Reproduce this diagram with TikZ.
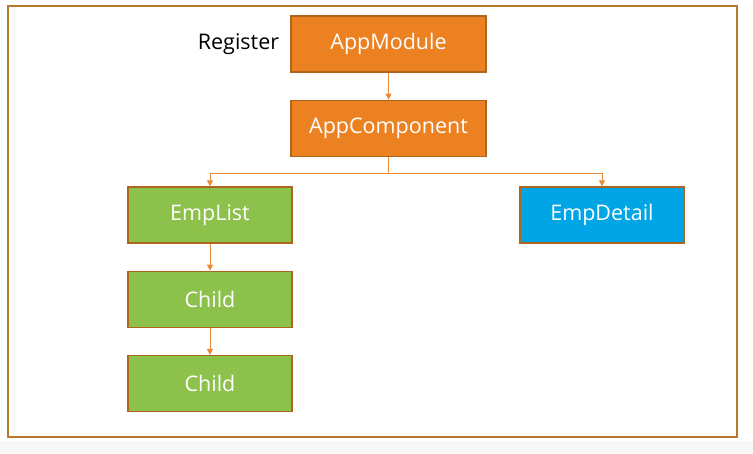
\documentclass[tikz,border=0pt]{standalone}
\usepackage{fontspec}
\setmainfont{Open Sans}
\usetikzlibrary{arrows.meta,positioning}

\definecolor{modorange}{HTML}{EC8122}
\definecolor{empgreen}{HTML}{8CC14C}
\definecolor{empblue}{HTML}{00A5E6}
\definecolor{boxedge}{HTML}{B0651E}
\definecolor{linkorange}{HTML}{E88A3A}
\definecolor{frameedge}{HTML}{B8782E}

\begin{document}
\begin{tikzpicture}[
  x=1pt, y=-1pt,
  node distance=27pt,
  box/.style={rectangle, draw=boxedge, line width=1.3pt, minimum width=195pt, minimum height=56pt, align=center, text=white, font=\fontsize{21.5}{24}\selectfont},
  small/.style={box, minimum width=164pt},
  link/.style={draw=linkorange, line width=0.9pt, -{Triangle[length=6pt,width=6pt]}},
]
  \useasboundingbox (0,0) rectangle (753,453);
  \fill[black!3] (0,441) rectangle (753,453);
  \draw[frameedge, line width=1.6pt] (8,6) rectangle (737,437);

  \node[box, fill=modorange] (mod) at (388.5,44) {AppModule};
  \node[box, fill=modorange, below=of mod] (comp) {AppComponent};
  \node[left=11pt of mod, inner sep=0pt, font=\fontsize{21.5}{24}\selectfont] (reg) {Register};
  \node[small, fill=empgreen] (list) at (210,215) {EmpList};
  \node[small, fill=empblue] (detail) at (602,215) {EmpDetail};
  \node[small, fill=empgreen, below=of list] (child1) {Child};
  \node[small, fill=empgreen, below=of child1] (child2) {Child};

  \draw[link] (mod) -- (comp);
  \draw[link] (comp.south) -- ++(0,16) -| (list.north);
  \draw[link] (comp.south) -- ++(0,16) -| (detail.north);
  \draw[link] (list) -- (child1);
  \draw[link] (child1) -- (child2);
\end{tikzpicture}
\end{document}
